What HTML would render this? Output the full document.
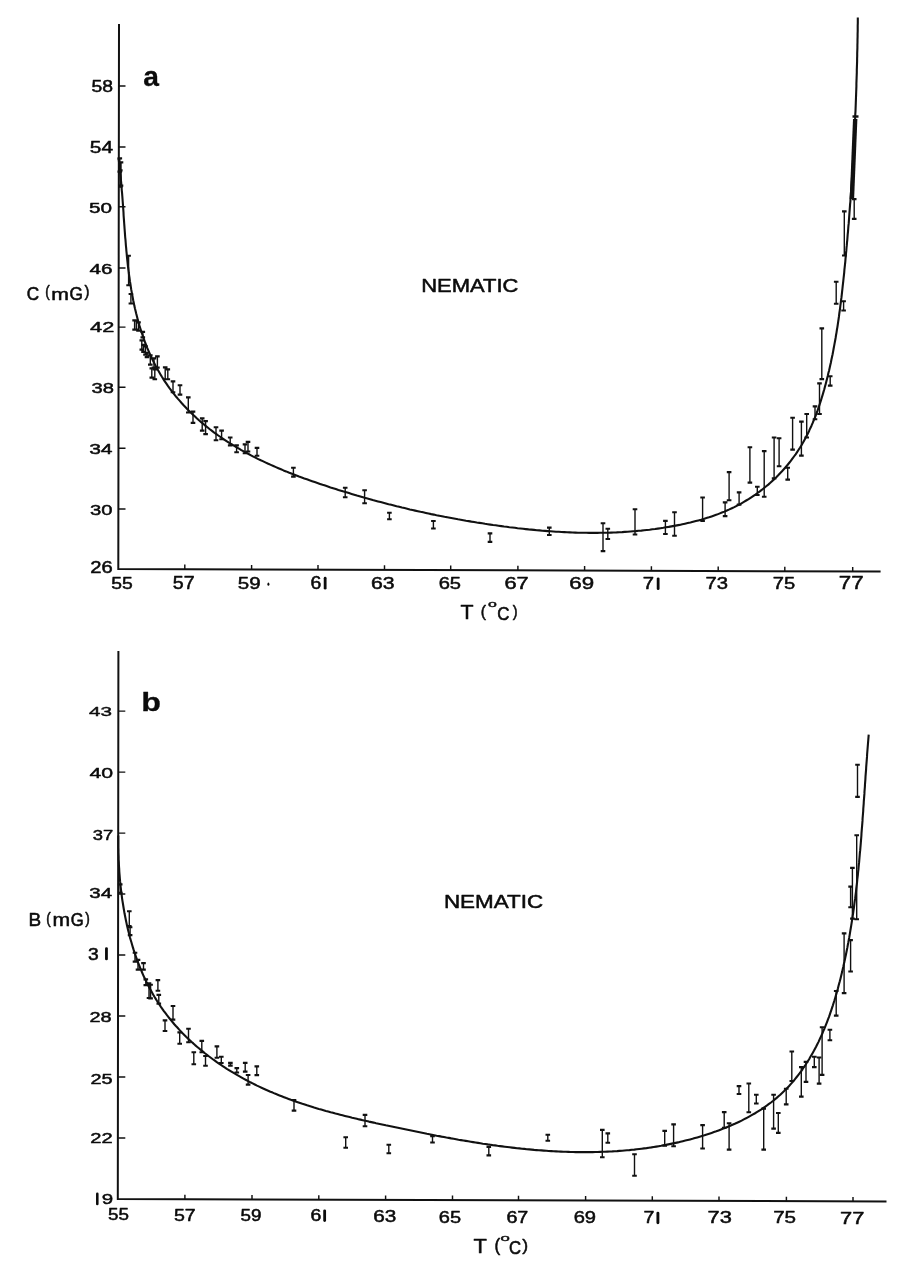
<!DOCTYPE html>
<html><head><meta charset="utf-8"><style>
html,body{margin:0;padding:0;background:#fff;width:924px;height:1269px;overflow:hidden}
svg{display:block}
</style></head><body>
<svg width="924" height="1269" viewBox="0 0 924 1269">
<rect width="924" height="1269" fill="#fff"/>
<g fill="none" stroke="#111" stroke-linecap="butt">
<path d="M119 24 L118.3 568.9 L880.6 571.6" stroke-width="2"/>
<path d="M118.5 85.9h7M118.5 147h7M118.5 206.8h7M118.5 268h7M118.5 327.1h7M118.5 387.2h7M118.5 448.2h7M118.5 509h7M184.8 569.1v-4.5M251.6 569.4v-4.5M318 569.6v-4.5M384.5 569.8v-4.5M450.7 570.1v-4.5M517.9 570.3v-4.5M584.6 570.5v-4.5M651.4 570.8v-4.5M718.2 571v-4.5M784.8 571.2v-4.5M852.7 571.5v-4.5" stroke-width="1.45"/>
<path d="M118.6 158.3 118.9 161.0 119.2 163.6 119.5 166.3 119.8 169.0 120.1 171.7 120.4 174.4 120.7 177.1 120.9 179.8 121.2 182.5 121.4 185.2 121.6 187.9 121.8 190.6 122.1 193.3 122.3 196.0 122.5 198.8 122.7 201.5 122.9 204.2 123.1 207.0 123.3 209.7 123.5 212.5 123.6 215.2 123.8 218.0 124.0 220.7 124.2 223.5 124.4 226.2 124.6 229.0 124.8 231.7 125.0 234.5 125.2 237.3 125.5 240.0 125.7 242.8 125.9 245.5 126.2 248.3 126.4 251.0 126.7 253.8 126.9 256.5 127.2 259.3 127.5 262.0 127.8 264.8 128.1 267.5 128.5 270.3 128.8 273.0 129.2 275.8 129.6 278.5 129.9 281.2 130.4 284.0 130.8 286.7 131.2 289.4 131.7 292.1 132.2 294.8 132.7 297.5 133.2 300.2 133.8 302.9 134.3 305.6 134.9 308.3 135.6 311.0 136.2 313.6 136.9 316.3 137.6 319.0 138.3 321.6 139.1 324.3 139.8 326.9 140.7 329.5 141.5 332.1 142.4 334.7 143.3 337.3 144.2 339.9 145.1 342.5 146.1 345.0 147.1 347.6 148.2 350.1 149.3 352.6 150.4 355.1 151.5 357.6 152.7 360.1 153.9 362.5 155.2 365.0 156.4 367.4 157.8 369.8 159.1 372.1 160.5 374.5 161.9 376.8 163.4 379.1 164.8 381.4 166.4 383.7 167.9 385.9 169.5 388.1 171.2 390.3 172.8 392.5 174.5 394.6 176.2 396.8 178.0 398.9 179.8 400.9 181.6 403.0 183.4 405.0 185.3 407.0 187.2 409.0 189.1 410.9 191.0 412.8 193.0 414.7 195.0 416.6 197.0 418.5 199.0 420.3 201.1 422.1 203.2 423.8 205.3 425.6 207.4 427.3 209.5 429.0 211.7 430.6 213.9 432.3 216.1 433.9 218.3 435.5 220.5 437.0 222.8 438.6 225.0 440.1 227.3 441.6 229.6 443.1 231.9 444.5 234.3 445.9 236.6 447.3 239.0 448.7 241.3 450.1 243.7 451.4 246.1 452.7 248.6 454.0 251.0 455.3 253.4 456.6 255.9 457.8 258.3 459.1 260.8 460.3 263.3 461.4 265.8 462.6 268.3 463.8 270.8 464.9 273.4 466.0 275.9 467.1 278.4 468.2 281.0 469.3 283.5 470.4 286.1 471.4 288.7 472.5 291.3 473.5 293.9 474.5 296.4 475.5 299.0 476.5 301.7 477.4 304.3 478.4 306.9 479.3 309.5 480.3 312.1 481.2 314.7 482.1 317.4 483.0 320.0 483.9 322.6 484.8 325.2 485.6 327.9 486.5 330.5 487.4 333.1 488.2 335.8 489.0 338.4 489.9 341.0 490.7 343.7 491.5 346.3 492.3 349.0 493.1 351.6 493.9 354.2 494.7 356.9 495.5 359.5 496.2 362.1 497.0 364.8 497.8 367.4 498.5 370.1 499.2 372.7 500.0 375.4 500.7 378.0 501.4 380.7 502.1 383.3 502.8 385.9 503.5 388.6 504.2 391.3 504.8 393.9 505.5 396.6 506.2 399.2 506.8 401.9 507.5 404.5 508.1 407.2 508.7 409.8 509.4 412.5 510.0 415.2 510.6 417.8 511.2 420.5 511.8 423.2 512.3 425.8 512.9 428.5 513.5 431.2 514.1 433.8 514.6 436.5 515.2 439.2 515.7 441.9 516.2 444.5 516.8 447.2 517.3 449.9 517.8 452.6 518.3 455.3 518.8 458.0 519.3 460.7 519.7 463.3 520.2 466.0 520.7 468.7 521.1 471.4 521.6 474.1 522.0 476.8 522.5 479.5 522.9 482.3 523.3 485.0 523.8 487.7 524.2 490.4 524.6 493.1 525.0 495.8 525.3 498.5 525.7 501.3 526.1 504.0 526.5 506.7 526.8 509.4 527.2 512.2 527.5 514.9 527.8 517.6 528.2 520.4 528.5 523.1 528.8 525.8 529.1 528.6 529.4 531.3 529.6 534.0 529.9 536.8 530.2 539.5 530.4 542.3 530.7 545.0 530.9 547.8 531.1 550.5 531.3 553.3 531.5 556.0 531.7 558.8 531.8 561.5 532.0 564.3 532.1 567.0 532.3 569.8 532.4 572.5 532.5 575.3 532.6 578.0 532.7 580.8 532.7 583.5 532.8 586.3 532.8 589.1 532.9 591.8 532.9 594.6 532.9 597.3 532.9 600.1 532.8 602.8 532.8 605.6 532.7 608.3 532.7 611.1 532.6 613.8 532.5 616.6 532.4 619.4 532.2 622.1 532.1 624.9 531.9 627.6 531.7 630.4 531.5 633.1 531.3 635.8 531.1 638.6 530.8 641.3 530.6 644.1 530.3 646.8 530.0 649.6 529.7 652.3 529.3 655.1 529.0 657.8 528.6 660.5 528.2 663.3 527.8 666.0 527.3 668.7 526.9 671.5 526.4 674.2 525.9 676.9 525.4 679.6 524.9 682.3 524.3 685.0 523.7 687.7 523.1 690.4 522.5 693.1 521.8 695.8 521.1 698.4 520.4 701.1 519.7 703.7 518.9 706.4 518.1 709.0 517.3 711.6 516.4 714.2 515.5 716.8 514.6 719.3 513.6 721.9 512.6 724.4 511.6 726.9 510.5 729.4 509.4 731.9 508.2 734.3 507.1 736.7 505.8 739.2 504.6 741.5 503.3 743.9 501.9 746.2 500.5 748.6 499.1 750.9 497.6 753.1 496.1 755.4 494.6 757.6 493.0 759.8 491.4 762.0 489.7 764.1 488.0 766.2 486.3 768.3 484.6 770.3 482.8 772.3 480.9 774.3 479.1 776.3 477.2 778.2 475.3 780.1 473.3 782.0 471.3 783.8 469.3 785.6 467.2 787.3 465.2 789.1 463.0 790.8 460.9 792.4 458.7 794.0 456.5 795.6 454.3 797.1 452.1 798.6 449.8 800.1 447.5 801.5 445.2 802.9 442.8 804.2 440.4 805.5 438.0 806.8 435.6 808.0 433.2 809.2 430.7 810.3 428.2 811.5 425.7 812.6 423.2 813.6 420.7 814.7 418.1 815.7 415.6 816.6 413.0 817.6 410.4 818.5 407.8 819.4 405.2 820.3 402.5 821.1 399.9 821.9 397.2 822.7 394.6 823.5 391.9 824.3 389.3 825.0 386.6 825.7 383.9 826.4 381.2 827.1 378.5 827.8 375.8 828.4 373.1 829.1 370.5 829.7 367.8 830.3 365.1 830.9 362.4 831.4 359.7 832.0 357.0 832.6 354.3 833.1 351.6 833.6 348.8 834.1 346.1 834.6 343.4 835.1 340.7 835.6 338.0 836.0 335.3 836.5 332.6 836.9 329.8 837.4 327.1 837.8 324.4 838.2 321.7 838.6 319.0 839.0 316.2 839.3 313.5 839.7 310.8 840.1 308.1 840.4 305.3 840.8 302.6 841.1 299.9 841.5 297.2 841.8 294.4 842.1 291.7 842.4 289.0 842.7 286.2 843.0 283.5 843.3 280.8 843.6 278.0 843.9 275.3 844.2 272.6 844.4 269.8 844.7 267.1 845.0 264.4 845.3 261.6 845.5 258.9 845.8 256.2 846.0 253.4 846.3 250.7 846.5 248.0 846.8 245.2 847.0 242.5 847.3 239.8 847.5 237.0 847.7 234.3 848.0 231.6 848.2 228.8 848.4 226.1 848.7 223.4 848.9 220.6 849.1 217.9 849.3 215.2 849.5 212.4 849.7 209.7 849.9 206.9 850.1 204.2 850.4 201.5 850.5 198.7 850.7 196.0 850.9 193.3 851.1 190.5 851.3 187.8 851.5 185.1 851.7 182.3 851.9 179.6 852.0 176.8 852.2 174.1 852.4 171.4 852.5 168.6 852.7 165.9 852.9 163.1 853.0 160.4 853.2 157.7 853.3 154.9 853.5 152.2 853.6 149.5 853.8 146.7 853.9 144.0 854.1 141.2 854.2 138.5 854.3 135.7 854.5 133.0 854.6 130.3 854.7 127.5 854.9 124.8 855.0 122.0 855.1 119.3 855.2 116.6 855.3 113.8 855.5 111.1 855.6 108.3 855.7 105.6 855.8 102.8 855.9 100.1 856.0 97.3 856.1 94.6 856.2 91.8 856.3 89.1 856.4 86.4 856.4 83.6 856.5 80.9 856.6 78.1 856.7 75.4 856.8 72.6 856.8 69.9 856.9 67.1 857.0 64.4 857.1 61.6 857.1 58.9 857.2 56.1 857.2 53.4 857.3 50.6 857.4 47.9 857.4 45.1 857.5 42.3 857.5 39.6 857.6 36.8 857.6 34.1 857.7 31.3 857.7 28.6 857.7 25.8 857.8 23.1 857.8 20.3 857.8 17.5" stroke-width="2.1" stroke-linejoin="round"/>
<path d="M119.8 158.5V171.5M120.3 170.5V186.5M121 162.5V185.5M128.6 255.9V285.2M130.9 294.1V303.4M136.4 320.9V329.5M142.8 332V337.3M143.5 345V351.8M145.5 346.5V354.5M147 352.8V357M141.8 340.5V349.5M134.6 320.5V329.5M138.5 322.5V330.5M154 358.5V367.5M151.8 368.5V377.5M150.3 355.5V364.5M157.4 356.5V367.5M154.8 369.5V379.1M165.2 367.5V379.1M167.8 369.5V379.1M173 381.5V392.1M180 385.3V394.5M188.3 397.5V412.4M193 411.7V422.8M202.2 418.5V430.5M205.6 421.2V434M216 427.3V440.1M221.6 430.7V439.2M230.2 437.6V445.3M236.6 445.5V452.2M245 444.5V453.1M248 442V451.4M257 448V455.7M293.4 467.9V476.5M345.2 487.9V497.2M364.6 490.3V503.1M389.4 512.8V519.2M433.4 521.1V528.4M490 533.5V541.8M549.3 527.7V534.9M603 523.4V551M607.8 528.9V538.9M635 509.4V534.4M665.4 521V533.9M674.5 512.4V535.6M702.6 497.6V520.9M725.1 502.5V516M729.1 472.2V500.1M739.1 492.5V504.5M749.9 447.4V482.5M757.3 486.9V494.9M764.2 451.2V496.6M774.1 437.6V478.3M779.1 438.4V466.2M787.7 467.9V479.5M792.6 417.9V449.5M801.4 421.7V455.5M806.7 414.1V437.4M815 406.5V419.2M819.5 383.5V413.9M821.8 328.5V379M830.2 376.3V385.5M836.2 281.9V303.7M843.6 301.3V310.4M844.3 211.5V255.4M854.2 199.2V218.8" stroke-width="1.4"/><path d="M117.5 158.4h4.6M117.5 171.6h4.6M118 170.4h4.6M118 186.6h4.6M118.7 162.4h4.6M118.7 185.6h4.6M126.3 255.8h4.6M126.3 285.3h4.6M128.6 294h4.6M128.6 303.5h4.6M134.1 320.8h4.6M134.1 329.6h4.6M140.5 331.9h4.6M140.5 337.4h4.6M141.2 344.9h4.6M141.2 351.9h4.6M143.2 346.4h4.6M143.2 354.6h4.6M144.7 352.7h4.6M144.7 357.1h4.6M139.5 340.4h4.6M139.5 349.6h4.6M132.3 320.4h4.6M132.3 329.6h4.6M136.2 322.4h4.6M136.2 330.6h4.6M151.7 358.4h4.6M151.7 367.6h4.6M149.5 368.4h4.6M149.5 377.6h4.6M148 355.4h4.6M148 364.6h4.6M155.1 356.4h4.6M155.1 367.6h4.6M152.5 369.4h4.6M152.5 379.2h4.6M162.9 367.4h4.6M162.9 379.2h4.6M165.5 369.4h4.6M165.5 379.2h4.6M170.7 381.4h4.6M170.7 392.2h4.6M177.7 385.2h4.6M177.7 394.6h4.6M186 397.4h4.6M186 412.5h4.6M190.7 411.6h4.6M190.7 422.9h4.6M199.9 418.4h4.6M199.9 430.6h4.6M203.3 421.1h4.6M203.3 434.1h4.6M213.7 427.2h4.6M213.7 440.2h4.6M219.3 430.6h4.6M219.3 439.3h4.6M227.9 437.5h4.6M227.9 445.4h4.6M234.3 445.4h4.6M234.3 452.3h4.6M242.7 444.4h4.6M242.7 453.2h4.6M245.7 441.9h4.6M245.7 451.5h4.6M254.7 447.9h4.6M254.7 455.8h4.6M291.1 467.8h4.6M291.1 476.6h4.6M342.9 487.8h4.6M342.9 497.3h4.6M362.3 490.2h4.6M362.3 503.2h4.6M387.1 512.7h4.6M387.1 519.3h4.6M431.1 521h4.6M431.1 528.5h4.6M487.7 533.4h4.6M487.7 541.9h4.6M547 527.6h4.6M547 535h4.6M600.7 523.3h4.6M600.7 551.1h4.6M605.5 528.8h4.6M605.5 539h4.6M632.7 509.3h4.6M632.7 534.5h4.6M663.1 520.9h4.6M663.1 534h4.6M672.2 512.3h4.6M672.2 535.7h4.6M700.3 497.5h4.6M700.3 521h4.6M722.8 502.4h4.6M722.8 516.1h4.6M726.8 472.1h4.6M726.8 500.2h4.6M736.8 492.4h4.6M736.8 504.6h4.6M747.6 447.3h4.6M747.6 482.6h4.6M755 486.8h4.6M755 495h4.6M761.9 451.1h4.6M761.9 496.7h4.6M771.8 437.5h4.6M771.8 478.4h4.6M776.8 438.3h4.6M776.8 466.3h4.6M785.4 467.8h4.6M785.4 479.6h4.6M790.3 417.8h4.6M790.3 449.6h4.6M799.1 421.6h4.6M799.1 455.6h4.6M804.4 414h4.6M804.4 437.5h4.6M812.7 406.4h4.6M812.7 419.3h4.6M817.2 383.4h4.6M817.2 414h4.6M819.5 328.4h4.6M819.5 379.1h4.6M827.9 376.2h4.6M827.9 385.6h4.6M833.9 281.8h4.6M833.9 303.8h4.6M841.3 301.2h4.6M841.3 310.5h4.6M842 211.4h4.6M842 255.5h4.6M851.9 199.1h4.6M851.9 218.9h4.6" stroke-width="2.1"/>
<path d="M855.2 119 L851.9 199" stroke-width="4.4"/><path d="M852.5 116.5h6" stroke-width="2.4"/>
<path d="M118.4 651 L117.8 1199 L886.5 1201.5" stroke-width="2"/>
<path d="M118.3 1138h7M118.3 1077h7M118.3 1016h7M118.3 955h7M118.3 894h7M118.3 833.1h7M118.3 772.1h7M118.3 711.1h7M184.9 1199.2v-4.5M252 1199.4v-4.5M318.8 1199.7v-4.5M385.6 1199.9v-4.5M452.5 1200.1v-4.5M518.5 1200.3v-4.5M585.6 1200.5v-4.5M652.3 1200.8v-4.5M719 1201v-4.5M786.4 1201.2v-4.5M853 1201.4v-4.5" stroke-width="1.45"/>
<path d="M118.3 835.4 118.3 837.8 118.3 840.2 118.3 842.5 118.3 844.9 118.3 847.3 118.4 849.7 118.4 852.2 118.5 854.6 118.6 857.0 118.6 859.4 118.8 861.9 118.9 864.3 119.0 866.7 119.2 869.2 119.3 871.6 119.5 874.1 119.7 876.5 119.9 879.0 120.1 881.4 120.4 883.9 120.6 886.3 120.9 888.8 121.2 891.3 121.5 893.7 121.8 896.2 122.1 898.6 122.5 901.1 122.9 903.5 123.3 906.0 123.7 908.5 124.1 910.9 124.5 913.3 125.0 915.8 125.5 918.2 126.0 920.7 126.5 923.1 127.0 925.5 127.6 927.9 128.2 930.4 128.8 932.8 129.4 935.2 130.0 937.6 130.7 940.0 131.4 942.3 132.1 944.7 132.8 947.1 133.5 949.4 134.3 951.8 135.1 954.1 135.9 956.5 136.7 958.8 137.5 961.1 138.4 963.4 139.3 965.7 140.2 968.0 141.2 970.3 142.1 972.5 143.1 974.8 144.1 977.0 145.2 979.2 146.2 981.4 147.3 983.6 148.4 985.8 149.5 988.0 150.7 990.1 151.9 992.3 153.1 994.4 154.3 996.5 155.6 998.6 156.9 1000.7 158.2 1002.7 159.5 1004.7 160.9 1006.8 162.3 1008.8 163.7 1010.8 165.1 1012.7 166.6 1014.7 168.1 1016.6 169.6 1018.5 171.1 1020.4 172.7 1022.3 174.3 1024.2 175.9 1026.0 177.6 1027.8 179.2 1029.6 180.9 1031.4 182.6 1033.2 184.3 1034.9 186.1 1036.7 187.9 1038.4 189.6 1040.1 191.4 1041.8 193.3 1043.4 195.1 1045.1 197.0 1046.7 198.9 1048.3 200.8 1049.9 202.7 1051.4 204.6 1053.0 206.6 1054.5 208.5 1056.0 210.5 1057.5 212.5 1059.0 214.5 1060.4 216.5 1061.9 218.6 1063.3 220.6 1064.7 222.7 1066.1 224.7 1067.4 226.8 1068.8 228.9 1070.1 231.0 1071.4 233.2 1072.7 235.3 1073.9 237.4 1075.2 239.6 1076.4 241.7 1077.6 243.9 1078.8 246.1 1080.0 248.2 1081.1 250.4 1082.3 252.6 1083.4 254.8 1084.5 257.0 1085.6 259.2 1086.6 261.5 1087.7 263.7 1088.7 265.9 1089.7 268.2 1090.7 270.4 1091.7 272.7 1092.6 274.9 1093.6 277.2 1094.5 279.5 1095.4 281.7 1096.3 284.0 1097.2 286.3 1098.1 288.6 1098.9 290.9 1099.8 293.2 1100.6 295.5 1101.4 297.8 1102.2 300.1 1103.0 302.4 1103.8 304.8 1104.5 307.1 1105.3 309.4 1106.0 311.8 1106.7 314.1 1107.5 316.4 1108.2 318.8 1108.9 321.2 1109.5 323.5 1110.2 325.9 1110.9 328.2 1111.5 330.6 1112.2 333.0 1112.8 335.4 1113.5 337.7 1114.1 340.1 1114.7 342.5 1115.3 344.9 1115.9 347.3 1116.5 349.7 1117.1 352.1 1117.7 354.4 1118.2 356.8 1118.8 359.2 1119.4 361.6 1119.9 364.1 1120.5 366.5 1121.0 368.9 1121.6 371.3 1122.1 373.7 1122.6 376.1 1123.2 378.5 1123.7 380.9 1124.2 383.3 1124.7 385.8 1125.3 388.2 1125.8 390.6 1126.3 393.0 1126.8 395.4 1127.3 397.9 1127.8 400.3 1128.3 402.7 1128.8 405.1 1129.3 407.5 1129.8 410.0 1130.3 412.4 1130.8 414.8 1131.3 417.2 1131.8 419.7 1132.3 422.1 1132.8 424.5 1133.3 426.9 1133.8 429.4 1134.2 431.8 1134.7 434.2 1135.2 436.6 1135.7 439.1 1136.1 441.5 1136.6 443.9 1137.0 446.4 1137.5 448.8 1137.9 451.2 1138.4 453.6 1138.8 456.1 1139.2 458.5 1139.7 460.9 1140.1 463.4 1140.5 465.8 1140.9 468.2 1141.3 470.7 1141.7 473.1 1142.1 475.5 1142.5 478.0 1142.9 480.4 1143.3 482.8 1143.7 485.3 1144.0 487.7 1144.4 490.2 1144.7 492.6 1145.1 495.0 1145.4 497.5 1145.8 499.9 1146.1 502.3 1146.4 504.8 1146.7 507.2 1147.0 509.7 1147.3 512.1 1147.6 514.5 1147.9 517.0 1148.2 519.4 1148.4 521.9 1148.7 524.3 1148.9 526.7 1149.2 529.2 1149.4 531.6 1149.6 534.1 1149.9 536.5 1150.1 538.9 1150.3 541.4 1150.4 543.8 1150.6 546.3 1150.8 548.7 1151.0 551.2 1151.1 553.6 1151.3 556.1 1151.4 558.5 1151.5 560.9 1151.6 563.4 1151.7 565.8 1151.8 568.3 1151.9 570.7 1152.0 573.2 1152.0 575.6 1152.1 578.1 1152.1 580.5 1152.1 582.9 1152.1 585.4 1152.1 587.8 1152.1 590.3 1152.1 592.7 1152.1 595.2 1152.0 597.6 1152.0 600.1 1151.9 602.5 1151.8 605.0 1151.7 607.4 1151.6 609.9 1151.5 612.3 1151.4 614.7 1151.2 617.2 1151.1 619.6 1150.9 622.1 1150.7 624.5 1150.5 627.0 1150.3 629.4 1150.1 631.9 1149.8 634.3 1149.6 636.7 1149.3 639.2 1149.0 641.6 1148.7 644.1 1148.4 646.5 1148.1 648.9 1147.7 651.4 1147.4 653.8 1147.0 656.2 1146.6 658.7 1146.2 661.1 1145.8 663.5 1145.3 665.9 1144.9 668.4 1144.4 670.8 1143.9 673.2 1143.4 675.6 1142.9 678.0 1142.4 680.4 1141.8 682.8 1141.2 685.3 1140.6 687.7 1140.0 690.1 1139.4 692.5 1138.8 694.9 1138.1 697.3 1137.4 699.6 1136.7 702.0 1136.0 704.4 1135.3 706.8 1134.5 709.2 1133.7 711.6 1132.9 713.9 1132.1 716.3 1131.3 718.6 1130.4 721.0 1129.5 723.3 1128.6 725.6 1127.7 728.0 1126.7 730.3 1125.8 732.5 1124.8 734.8 1123.8 737.1 1122.7 739.3 1121.7 741.6 1120.6 743.8 1119.4 746.0 1118.3 748.2 1117.1 750.4 1115.9 752.5 1114.7 754.7 1113.5 756.8 1112.2 758.9 1110.9 761.0 1109.6 763.0 1108.2 765.0 1106.8 767.0 1105.4 769.0 1103.9 771.0 1102.5 772.9 1101.0 774.8 1099.4 776.7 1097.9 778.5 1096.3 780.3 1094.7 782.1 1093.0 783.9 1091.3 785.6 1089.6 787.2 1087.9 788.9 1086.2 790.5 1084.4 792.1 1082.6 793.7 1080.8 795.2 1078.9 796.7 1077.0 798.2 1075.1 799.7 1073.2 801.1 1071.3 802.5 1069.3 803.8 1067.3 805.2 1065.3 806.5 1063.3 807.8 1061.3 809.1 1059.2 810.3 1057.1 811.5 1055.0 812.7 1052.9 813.9 1050.8 815.0 1048.7 816.2 1046.5 817.3 1044.3 818.4 1042.1 819.4 1039.9 820.4 1037.7 821.5 1035.4 822.5 1033.2 823.4 1030.9 824.4 1028.7 825.3 1026.4 826.2 1024.1 827.1 1021.8 828.0 1019.4 828.9 1017.1 829.7 1014.8 830.5 1012.4 831.3 1010.1 832.1 1007.7 832.9 1005.3 833.6 1003.0 834.4 1000.6 835.1 998.2 835.8 995.8 836.5 993.4 837.2 991.0 837.9 988.6 838.5 986.1 839.1 983.7 839.8 981.3 840.4 978.9 841.0 976.5 841.6 974.0 842.2 971.6 842.7 969.2 843.3 966.8 843.8 964.3 844.4 961.9 844.9 959.5 845.4 957.1 845.9 954.7 846.4 952.2 846.9 949.8 847.4 947.4 847.8 945.0 848.3 942.5 848.7 940.1 849.2 937.7 849.6 935.3 850.0 932.8 850.4 930.4 850.8 928.0 851.2 925.6 851.6 923.1 852.0 920.7 852.4 918.3 852.7 915.8 853.1 913.4 853.4 911.0 853.8 908.6 854.1 906.1 854.4 903.7 854.7 901.3 855.1 898.9 855.4 896.4 855.7 894.0 856.0 891.6 856.2 889.1 856.5 886.7 856.8 884.3 857.1 881.8 857.3 879.4 857.6 877.0 857.9 874.5 858.1 872.1 858.4 869.7 858.6 867.2 858.8 864.8 859.1 862.4 859.3 859.9 859.5 857.5 859.7 855.1 859.9 852.6 860.2 850.2 860.4 847.7 860.6 845.3 860.8 842.9 861.0 840.4 861.2 838.0 861.4 835.5 861.5 833.1 861.7 830.7 861.9 828.2 862.1 825.8 862.3 823.3 862.5 820.9 862.6 818.4 862.8 816.0 863.0 813.5 863.2 811.1 863.3 808.6 863.5 806.2 863.7 803.7 863.8 801.3 864.0 798.8 864.2 796.4 864.4 793.9 864.5 791.4 864.7 789.0 864.9 786.5 865.0 784.1 865.2 781.6 865.4 779.1 865.5 776.7 865.7 774.2 865.9 771.7 866.1 769.3 866.2 766.8 866.4 764.3 866.6 761.9 866.8 759.4 867.0 756.9 867.1 754.5 867.3 752.0 867.5 749.5 867.7 747.0 867.9 744.5 868.1 742.1 868.3 739.6 868.5 737.1 868.7 734.6" stroke-width="2.1" stroke-linejoin="round"/>
<path d="M120.2 884.5V892.7M129.3 911.3V925.9M130.1 927.3V935M135 952.8V961.5M138 960V969.5M143.5 963.2V969.5M145.8 979.5V985M149 983.4V997.9M150.6 984.9V998.3M157.9 980.2V990.7M158.8 995V1003.5M173 1006.1V1019.5M165 1020.5V1030.9M179.7 1032.5V1043.7M188.5 1028.8V1042.2M193.8 1052.3V1064.2M201.8 1041V1052.1M205.5 1056.1V1065.7M216.9 1046.5V1057.7M221.3 1056.9V1062.9M230.4 1063V1065.5M236.8 1068.2V1072.4M245.2 1063V1071.5M256.8 1066.5V1075M248.1 1075.1V1084.5M294 1100.2V1110.5M345.7 1137.4V1147.6M365 1115V1126.1M388.8 1144.9V1153.2M432.5 1136.2V1142.4M488.8 1147V1155.3M547.8 1134.9V1140.7M602.3 1130V1157.2M607.8 1133.5V1142.6M634.5 1154.3V1175.7M664.7 1131V1145.5M673.6 1124.5V1146.1M702.6 1125.2V1148.4M724.2 1112.2V1127.6M729.1 1123.4V1149.5M739 1086.2V1093.9M748.8 1083.6V1112.1M756.3 1094.9V1103.4M763.7 1108.7V1149.5M773.6 1094.9V1128.5M778.3 1113.1V1132.8M786.2 1088.8V1104.3M791.8 1051.6V1080.9M801.3 1067.2V1096.5M806 1062V1081.8M814.3 1056.8V1067M819.1 1057.6V1083.5M822.1 1027.3V1074.8M829.9 1029.9V1040.2M836.2 991.1V1015.5M844.1 933.5V993M852.4 868V918.5M850.6 940.2V971.4M850.6 886.7V907.1M856.7 835.3V919.1M857.5 764.9V796.8" stroke-width="1.4"/><path d="M117.9 884.4h4.6M117.9 892.8h4.6M127 911.2h4.6M127 926h4.6M127.8 927.2h4.6M127.8 935.1h4.6M132.7 952.7h4.6M132.7 961.6h4.6M135.7 959.9h4.6M135.7 969.6h4.6M141.2 963.1h4.6M141.2 969.6h4.6M143.5 979.4h4.6M143.5 985.1h4.6M146.7 983.3h4.6M146.7 998h4.6M148.3 984.8h4.6M148.3 998.4h4.6M155.6 980.1h4.6M155.6 990.8h4.6M156.5 994.9h4.6M156.5 1003.6h4.6M170.7 1006h4.6M170.7 1019.6h4.6M162.7 1020.4h4.6M162.7 1031h4.6M177.4 1032.4h4.6M177.4 1043.8h4.6M186.2 1028.7h4.6M186.2 1042.3h4.6M191.5 1052.2h4.6M191.5 1064.3h4.6M199.5 1040.9h4.6M199.5 1052.2h4.6M203.2 1056h4.6M203.2 1065.8h4.6M214.6 1046.4h4.6M214.6 1057.8h4.6M219 1056.8h4.6M219 1063h4.6M228.1 1062.9h4.6M228.1 1065.6h4.6M234.5 1068.1h4.6M234.5 1072.5h4.6M242.9 1062.9h4.6M242.9 1071.6h4.6M254.5 1066.4h4.6M254.5 1075.1h4.6M245.8 1075h4.6M245.8 1084.6h4.6M291.7 1100.1h4.6M291.7 1110.6h4.6M343.4 1137.3h4.6M343.4 1147.7h4.6M362.7 1114.9h4.6M362.7 1126.2h4.6M386.5 1144.8h4.6M386.5 1153.3h4.6M430.2 1136.1h4.6M430.2 1142.5h4.6M486.5 1146.9h4.6M486.5 1155.4h4.6M545.5 1134.8h4.6M545.5 1140.8h4.6M600 1129.9h4.6M600 1157.3h4.6M605.5 1133.4h4.6M605.5 1142.7h4.6M632.2 1154.2h4.6M632.2 1175.8h4.6M662.4 1130.9h4.6M662.4 1145.6h4.6M671.3 1124.4h4.6M671.3 1146.2h4.6M700.3 1125.1h4.6M700.3 1148.5h4.6M721.9 1112.1h4.6M721.9 1127.7h4.6M726.8 1123.3h4.6M726.8 1149.6h4.6M736.7 1086.1h4.6M736.7 1094h4.6M746.5 1083.5h4.6M746.5 1112.2h4.6M754 1094.8h4.6M754 1103.5h4.6M761.4 1108.6h4.6M761.4 1149.6h4.6M771.3 1094.8h4.6M771.3 1128.6h4.6M776 1113h4.6M776 1132.9h4.6M783.9 1088.7h4.6M783.9 1104.4h4.6M789.5 1051.5h4.6M789.5 1081h4.6M799 1067.1h4.6M799 1096.6h4.6M803.7 1061.9h4.6M803.7 1081.9h4.6M812 1056.7h4.6M812 1067.1h4.6M816.8 1057.5h4.6M816.8 1083.6h4.6M819.8 1027.2h4.6M819.8 1074.9h4.6M827.6 1029.8h4.6M827.6 1040.3h4.6M833.9 991h4.6M833.9 1015.6h4.6M841.8 933.4h4.6M841.8 993.1h4.6M850.1 867.9h4.6M850.1 918.6h4.6M848.3 940.1h4.6M848.3 971.5h4.6M848.3 886.6h4.6M848.3 907.2h4.6M854.4 835.2h4.6M854.4 919.2h4.6M855.2 764.8h4.6M855.2 796.9h4.6" stroke-width="2.1"/>
</g>
<g font-family="Liberation Sans, sans-serif" fill="#0b0b0b" stroke="#0b0b0b" stroke-linejoin="round" opacity="0.999">
<text transform="matrix(0.19369 0 0 0.16549 91.50 91.86)" font-size="100" stroke-width="3.06">58</text>
<text transform="matrix(0.20913 0 0 0.16357 89.84 153.26)" font-size="100" stroke-width="2.95">54</text>
<text transform="matrix(0.20728 0 0 0.14859 88.95 213.48)" font-size="100" stroke-width="3.09">50</text>
<text transform="matrix(0.20721 0 0 0.14014 89.46 273.68)" font-size="100" stroke-width="3.17">46</text>
<text transform="matrix(0.21787 0 0 0.15214 90.03 332.43)" font-size="100" stroke-width="2.97">42</text>
<text transform="matrix(0.20146 0 0 0.15000 91.57 392.58)" font-size="100" stroke-width="3.13">38</text>
<text transform="matrix(0.21106 0 0 0.15000 89.13 453.98)" font-size="100" stroke-width="3.05">34</text>
<text transform="matrix(0.20243 0 0 0.15282 90.07 514.77)" font-size="100" stroke-width="3.10">30</text>
<text transform="matrix(0.20246 0 0 0.15845 90.26 573.27)" font-size="100" stroke-width="3.05">26</text>
<text transform="matrix(0.19369 0 0 0.16929 111.20 588.56)" font-size="100" stroke-width="3.03">55</text>
<text transform="matrix(0.19657 0 0 0.17786 172.79 589.15)" font-size="100" stroke-width="2.94">57</text>
<text transform="matrix(0.20537 0 0 0.16690 237.85 588.56)" font-size="100" stroke-width="2.95">59</text>
<text transform="matrix(0.19457 0 0 0.17676 310.40 589.15)" font-size="100" stroke-width="2.96">6</text><path d="M325.15 578.20V588.20" stroke-width="2.81" stroke-linecap="round" fill="none"/>
<text transform="matrix(0.21232 0 0 0.16690 371.01 589.16)" font-size="100" stroke-width="2.90">63</text>
<text transform="matrix(0.20147 0 0 0.15986 438.67 589.17)" font-size="100" stroke-width="3.04">65</text>
<text transform="matrix(0.21832 0 0 0.15986 504.38 589.17)" font-size="100" stroke-width="2.91">67</text>
<text transform="matrix(0.22315 0 0 0.16690 569.26 589.16)" font-size="100" stroke-width="2.82">69</text>
<text transform="matrix(0.20330 0 0 0.17174 642.76 589.32)" font-size="100" stroke-width="2.93">7</text><path d="M658.15 578.80V588.70" stroke-width="2.80" stroke-linecap="round" fill="none"/>
<text transform="matrix(0.20246 0 0 0.16690 705.56 589.16)" font-size="100" stroke-width="2.98">73</text>
<text transform="matrix(0.20147 0 0 0.16929 772.77 589.16)" font-size="100" stroke-width="2.97">75</text>
<text transform="matrix(0.22426 0 0 0.18043 838.75 589.32)" font-size="100" stroke-width="2.72">77</text>
<text transform="matrix(0.17222 0 0 0.19225 26.81 300.33)" font-size="100" stroke-width="3.02">C</text>
<text transform="matrix(0.13396 0 0 0.17166 45.17 297.32)" font-size="100" stroke-width="3.60">(</text>
<text transform="matrix(0.21214 0 0 0.17315 51.20 299.73)" font-size="100" stroke-width="2.85">m</text>
<text transform="matrix(0.17328 0 0 0.18099 69.61 299.94)" font-size="100" stroke-width="3.10">G</text>
<text transform="matrix(0.14808 0 0 0.16310 84.43 297.10)" font-size="100" stroke-width="3.53">)</text>
<text transform="matrix(0.21986 0 0 0.17676 421.22 291.85)" font-size="100" stroke-width="2.77">NEMATIC</text>
<text transform="matrix(0.21316 0 0 0.19783 460.45 619.42)" font-size="100" stroke-width="2.68">T</text>
<text transform="matrix(0.15660 0 0 0.16952 480.74 616.57)" font-size="100" stroke-width="3.37">(</text>
<text transform="matrix(0.15895 0 0 0.09727 487.94 606.83)" font-size="100" stroke-width="4.29">o</text>
<text transform="matrix(0.16905 0 0 0.19085 497.13 619.53)" font-size="100" stroke-width="3.06">C</text>
<text transform="matrix(0.14423 0 0 0.16952 512.63 616.57)" font-size="100" stroke-width="3.51">)</text>
<text transform="matrix(0.28224 0 0 0.28364 143.20 85.87)" font-size="100" font-weight="bold" stroke-width="1.06">a</text>
<text transform="matrix(0.20625 0 0 0.12887 89.06 716.30)" font-size="100" stroke-width="3.28">43</text>
<text transform="matrix(0.21292 0 0 0.15423 89.54 778.27)" font-size="100" stroke-width="3.00">40</text>
<text transform="matrix(0.18382 0 0 0.14296 92.84 839.78)" font-size="100" stroke-width="3.37">37</text>
<text transform="matrix(0.20529 0 0 0.14296 89.25 897.78)" font-size="100" stroke-width="3.16">34</text>
<text transform="matrix(0.19255 0 0 0.17254 87.90 959.55)" font-size="100" stroke-width="3.01">3</text><path d="M106.45 948.60V958.90" stroke-width="2.80" stroke-linecap="round" fill="none"/>
<text transform="matrix(0.19951 0 0 0.14577 89.48 1021.58)" font-size="100" stroke-width="3.19">28</text>
<text transform="matrix(0.19951 0 0 0.14718 90.38 1083.68)" font-size="100" stroke-width="3.17">25</text>
<text transform="matrix(0.20149 0 0 0.14929 90.37 1143.42)" font-size="100" stroke-width="3.14">22</text>
<path d="M97.30 1193.80V1203.90" stroke-width="2.55" stroke-linecap="round" fill="none"/><text transform="matrix(0.20538 0 0 0.15423 101.65 1204.17)" font-size="100" stroke-width="3.06">9</text>
<text transform="matrix(0.18883 0 0 0.16929 107.92 1220.16)" font-size="100" stroke-width="3.07">55</text>
<text transform="matrix(0.19559 0 0 0.16071 173.89 1220.66)" font-size="100" stroke-width="3.09">57</text>
<text transform="matrix(0.18878 0 0 0.15845 240.62 1220.67)" font-size="100" stroke-width="3.17">59</text>
<text transform="matrix(0.19457 0 0 0.15704 310.40 1220.77)" font-size="100" stroke-width="3.13">6</text><path d="M324.65 1210.80V1220.50" stroke-width="2.81" stroke-linecap="round" fill="none"/>
<text transform="matrix(0.20739 0 0 0.16690 373.14 1222.26)" font-size="100" stroke-width="2.94">63</text>
<text transform="matrix(0.20049 0 0 0.16690 438.77 1222.86)" font-size="100" stroke-width="2.99">65</text>
<text transform="matrix(0.19752 0 0 0.16690 506.39 1223.36)" font-size="100" stroke-width="3.02">67</text>
<text transform="matrix(0.20148 0 0 0.16690 573.67 1223.36)" font-size="100" stroke-width="2.99">69</text>
<text transform="matrix(0.19670 0 0 0.17174 643.39 1223.22)" font-size="100" stroke-width="2.99">7</text><path d="M657.90 1213.10V1222.80" stroke-width="2.89" stroke-linecap="round" fill="none"/>
<text transform="matrix(0.21823 0 0 0.16690 707.58 1223.36)" font-size="100" stroke-width="2.86">73</text>
<text transform="matrix(0.20637 0 0 0.16071 773.14 1223.36)" font-size="100" stroke-width="3.00">75</text>
<text transform="matrix(0.21931 0 0 0.17029 840.08 1224.02)" font-size="100" stroke-width="2.82">77</text>
<text transform="matrix(0.18972 0 0 0.19203 28.56 926.42)" font-size="100" stroke-width="2.88">B</text>
<text transform="matrix(0.13396 0 0 0.17059 46.37 923.64)" font-size="100" stroke-width="3.61">(</text>
<text transform="matrix(0.21214 0 0 0.18056 52.40 926.02)" font-size="100" stroke-width="2.80">m</text>
<text transform="matrix(0.16718 0 0 0.18662 70.84 926.24)" font-size="100" stroke-width="3.11">G</text>
<text transform="matrix(0.13654 0 0 0.16631 85.24 923.73)" font-size="100" stroke-width="3.63">)</text>
<text transform="matrix(0.22451 0 0 0.17958 443.88 908.35)" font-size="100" stroke-width="2.72">NEMATIC</text>
<text transform="matrix(0.21842 0 0 0.19783 473.44 1253.42)" font-size="100" stroke-width="2.64">T</text>
<text transform="matrix(0.17170 0 0 0.17487 494.44 1251.25)" font-size="100" stroke-width="3.17">(</text>
<text transform="matrix(0.16737 0 0 0.09000 500.51 1240.84)" font-size="100" stroke-width="4.27">o</text>
<text transform="matrix(0.16746 0 0 0.19085 509.04 1253.53)" font-size="100" stroke-width="3.07">C</text>
<text transform="matrix(0.17500 0 0 0.17380 522.20 1250.88)" font-size="100" stroke-width="3.15">)</text>
<text transform="matrix(0.32277 0 0 0.25578 141.15 710.59)" font-size="100" font-weight="bold" stroke-width="1.04">b</text>
<ellipse cx="268.4" cy="584.2" rx="1" ry="1.6" stroke="none"/>
</g>
</svg>
</body></html>
